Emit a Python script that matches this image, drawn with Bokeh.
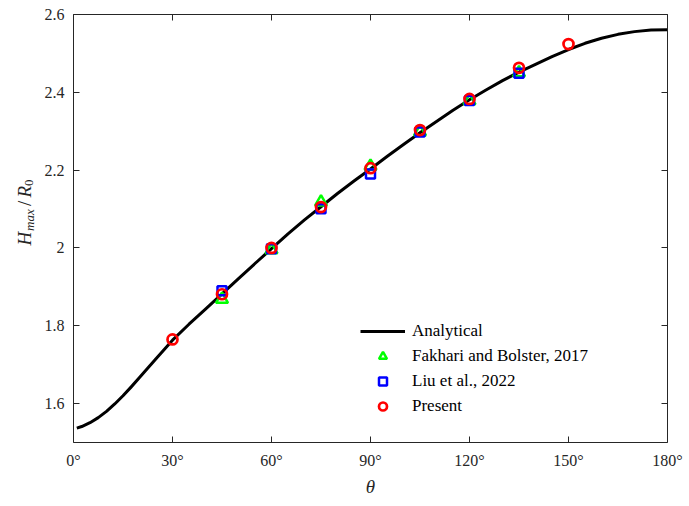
import math
from bokeh.plotting import figure
from bokeh.layouts import row
from bokeh.models import (Range1d, FixedTicker, LinearAxis, Legend, LegendItem, Label)
from bokeh.embed import file_html
from bokeh.resources import INLINE

# ---------------- data ----------------
theta_curve = [1, 2.5, 5, 7.5, 10, 12.5, 15, 17.5, 20, 25, 30, 35, 40, 45, 50, 55, 60,
               65, 70, 75, 80, 85, 90, 95, 100, 105, 110, 115, 120, 125, 130, 135,
               140, 145, 150, 155, 160, 165, 170, 175, 180]
h_curve = [1.537, 1.541, 1.551, 1.564, 1.580, 1.599, 1.620, 1.643, 1.667, 1.715,
           1.763, 1.804, 1.843, 1.882, 1.921, 1.960, 1.998, 2.036, 2.072, 2.106,
           2.140, 2.172, 2.203, 2.235, 2.266, 2.296, 2.325, 2.354, 2.381, 2.406,
           2.430, 2.452, 2.472, 2.492, 2.510, 2.526, 2.539, 2.549, 2.556, 2.560, 2.561]

theta_fak = [45, 60, 75, 90, 105, 120, 135]
h_fak = [1.868, 1.995, 2.118, 2.210, 2.298, 2.378, 2.450]

theta_liu = [45, 60, 75, 90, 105, 120, 135]
h_liu = [1.890, 1.998, 2.101, 2.190, 2.298, 2.379, 2.449]

theta_present = [30, 45, 60, 75, 90, 105, 120, 135, 150]
h_present = [1.765, 1.881, 2.000, 2.105, 2.205, 2.303, 2.383, 2.463, 2.524]

x_ticks = [0, 30, 60, 90, 120, 150, 180]
x_tick_labels = ["0°", "30°", "60°", "90°", "120°", "150°", "180°"]
y_ticks = [1.6, 1.8, 2.0, 2.2, 2.4, 2.6]
y_tick_labels = ["1.6", "1.8", "2", "2.2", "2.4", "2.6"]

legend_labels = ["Analytical", "Fakhari and Bolster, 2017", "Liu et al., 2022", "Present"]

# ---------------- figure ----------------
SERIF = "Liberation Serif"
AX = "#262626"
LABEL_W = 40
H = 506
FRAME_BOTTOM = 442

p = figure(width=689 - LABEL_W, height=H, output_backend="svg", toolbar_location=None,
           x_range=Range1d(0, 180), y_range=Range1d(1.5, 2.6),
           min_border_left=73 - LABEL_W, min_border_right=22, min_border_top=14,
           min_border_bottom=64, x_axis_location=None, y_axis_location=None)
p.grid.visible = False
p.outline_line_color = None
p.background_fill_color = "white"
p.border_fill_color = "white"

def style_axis(ax, show_labels):
    ax.axis_line_color = AX
    ax.axis_line_width = 1
    ax.major_tick_line_color = AX
    ax.major_tick_in = 6
    ax.major_tick_out = 0
    ax.minor_tick_line_color = None
    ax.major_label_text_font = SERIF
    ax.major_label_text_color = "#262626"
    ax.major_label_text_font_size = "16px" if show_labels else "0px"
    ax.major_label_standoff = 9 if show_labels else 0

bottom = LinearAxis(ticker=FixedTicker(ticks=x_ticks),
                    major_label_overrides={t: l for t, l in zip(x_ticks, x_tick_labels)})
style_axis(bottom, True)
bottom.axis_label = "θ"
bottom.axis_label_text_font = SERIF
bottom.axis_label_text_font_style = "italic"
bottom.axis_label_text_font_size = "19px"
bottom.axis_label_text_color = "#262626"
bottom.axis_label_standoff = 4
p.add_layout(bottom, "below")

left = LinearAxis(ticker=FixedTicker(ticks=y_ticks),
                  major_label_overrides={t: l for t, l in zip(y_ticks, y_tick_labels)})
style_axis(left, True)
p.add_layout(left, "left")

top = LinearAxis(ticker=FixedTicker(ticks=x_ticks))
style_axis(top, False)
p.add_layout(top, "above")

right = LinearAxis(ticker=FixedTicker(ticks=y_ticks))
style_axis(right, False)
p.add_layout(right, "right")

# ---------------- glyphs ----------------
r_line = p.line(theta_curve, h_curve, line_color="black", line_width=3, line_join="round")
r_fak = p.scatter(theta_fak, h_fak, marker="triangle", size=12, line_color="#00FF00",
                  line_width=2.5, fill_color=None)
r_liu = p.scatter(theta_liu, h_liu, marker="square", size=9, line_color="#0000FF",
                  line_width=2.5, fill_color=None)
r_pre = p.scatter(theta_present, h_present, marker="circle", size=10, line_color="#FF0000",
                  line_width=2.7, fill_color=None)

legend = Legend(items=[LegendItem(label=legend_labels[0], renderers=[r_line]),
                       LegendItem(label=legend_labels[1], renderers=[r_fak]),
                       LegendItem(label=legend_labels[2], renderers=[r_liu]),
                       LegendItem(label=legend_labels[3], renderers=[r_pre])],
                location=(287, 26), padding=0, spacing=5,
                glyph_width=45, glyph_height=20, label_height=20,
                label_standoff=7, label_text_font=SERIF, label_text_font_size="17px",
                label_text_color="black",
                border_line_alpha=0, background_fill_alpha=0)
p.add_layout(legend, "center")

# ---------------- y-axis label (separate narrow panel) ----------------
lab = figure(width=LABEL_W, height=H, output_backend="svg", toolbar_location=None,
             title=None, x_range=Range1d(0, LABEL_W), y_range=Range1d(0, H),
             min_border=0, min_border_left=0, min_border_right=0,
             min_border_top=0, min_border_bottom=0,
             x_axis_location=None, y_axis_location=None)
lab.grid.visible = False
lab.outline_line_color = None
lab.border_fill_color = "white"
lab.background_fill_color = "white"

base_x = 24
pieces = [
    # text, size, italic, canvas y start (bottom of text), x anchor
    ("H", 19, True, 245, base_x),
    ("max", 13, True, 230.5, base_x + 5),
    ("/", 19, False, 205.5, base_x),
    ("R", 19, True, 197, base_x),
    ("0", 13, False, 185.5, base_x + 4),
]
for txt, sz, it, sy, bx in pieces:
    lab.add_layout(Label(x=bx, y=FRAME_BOTTOM - sy, x_units="screen", y_units="screen",
                         text=txt, angle=math.pi / 2, text_font=SERIF,
                         text_font_size=f"{sz}px",
                         text_font_style="italic" if it else "normal",
                         text_color="#262626", text_align="left",
                         text_baseline="alphabetic"))

layout = row(lab, p, spacing=0)
open("out.html", "w").write(file_html(layout, INLINE))
